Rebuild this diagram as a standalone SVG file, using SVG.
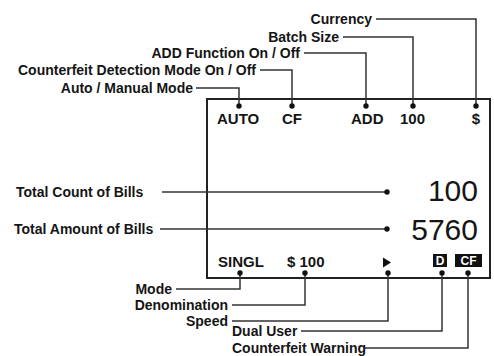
<svg xmlns="http://www.w3.org/2000/svg" width="494" height="356" viewBox="0 0 494 356">
<style>
.lbl{font-family:"Liberation Sans",Arial,sans-serif;font-weight:bold;font-size:14px;fill:#151515}
.lcd{font-family:"Liberation Sans",Arial,sans-serif;font-weight:bold;font-size:15px;fill:#151515}
.big{font-family:"Liberation Sans",Arial,sans-serif;font-size:30px;fill:#151515}
.ld{fill:none;stroke:#333;stroke-width:1.5}
.dot{fill:#111}
.inv{font-family:"Liberation Sans",Arial,sans-serif;font-weight:bold;font-size:12px;fill:#fff}
</style>
<rect width="494" height="356" fill="#fff"/>
<g id="display">
<rect x="207" y="99" width="283" height="179" fill="none" stroke="#222" stroke-width="2"/>
</g>
<g id="connectors">
<path class="ld" d="M376 19H476V106"/>
<path class="ld" d="M343 37H413V106"/>
<path class="ld" d="M304 53H366V106"/>
<path class="ld" d="M260 70H292V106"/>
<path class="ld" d="M196 88H239V106"/>
<path class="ld" d="M162 192H387"/>
<path class="ld" d="M160 229H387"/>
<path class="ld" d="M176 289H240V273"/>
<path class="ld" d="M232 305H305V273"/>
<path class="ld" d="M232 321H388V273"/>
<path class="ld" d="M301 331H442V273"/>
<path class="ld" d="M365 348H468V273"/>
<circle class="dot" cx="476" cy="106" r="2.7"/>
<circle class="dot" cx="413" cy="106" r="2.7"/>
<circle class="dot" cx="366" cy="106" r="2.7"/>
<circle class="dot" cx="292" cy="106" r="2.7"/>
<circle class="dot" cx="239" cy="106" r="2.7"/>
<circle class="dot" cx="387" cy="192" r="2.7"/>
<circle class="dot" cx="387" cy="229" r="2.7"/>
<circle class="dot" cx="240" cy="273" r="2.7"/>
<circle class="dot" cx="305" cy="273" r="2.7"/>
<circle class="dot" cx="388" cy="273" r="2.7"/>
<circle class="dot" cx="442" cy="273" r="2.7"/>
<circle class="dot" cx="468" cy="273" r="2.7"/>
</g>
<g id="label-currency"><text class="lbl" x="372" y="24" text-anchor="end">Currency</text></g>
<g id="label-batch"><text class="lbl" x="339" y="42" text-anchor="end">Batch Size</text></g>
<g id="label-add"><text class="lbl" x="300" y="58" text-anchor="end">ADD Function On / Off</text></g>
<g id="label-cfmode"><text class="lbl" x="256" y="75" text-anchor="end">Counterfeit Detection Mode On / Off</text></g>
<g id="label-auto"><text class="lbl" x="193" y="93" text-anchor="end">Auto / Manual Mode</text></g>
<g id="label-count"><text class="lbl" x="16" y="197">Total Count of Bills</text></g>
<g id="label-amount"><text class="lbl" x="14" y="234">Total Amount of Bills</text></g>
<g id="label-mode"><text class="lbl" x="172" y="294" text-anchor="end">Mode</text></g>
<g id="label-denom"><text class="lbl" x="228" y="310" text-anchor="end">Denomination</text></g>
<g id="label-speed"><text class="lbl" x="228" y="326" text-anchor="end">Speed</text></g>
<g id="label-dual"><text class="lbl" x="232" y="336">Dual User</text></g>
<g id="label-cfwarn"><text class="lbl" x="232" y="352.5">Counterfeit Warning</text></g>
<g id="lcd-top">
<text class="lcd" x="217" y="124">AUTO</text>
<text class="lcd" x="282" y="124">CF</text>
<text class="lcd" x="351" y="124">ADD</text>
<text class="lcd" x="400" y="124">100</text>
<text class="lcd" x="476" y="124" text-anchor="middle">$</text>
</g>
<g id="lcd-numbers">
<text class="big" x="478" y="201" text-anchor="end">100</text>
<text class="big" x="478" y="240" text-anchor="end" font-size="31">5760</text>
</g>
<g id="lcd-bottom">
<text class="lcd" x="218" y="267">SINGL</text>
<text class="lcd" x="287" y="267">$ 100</text>
<path d="M383 257.5L391 262.5L383 267.5Z" fill="#111"/>
<rect x="433" y="254" width="14" height="13" fill="#111"/>
<text class="inv" x="440" y="265" text-anchor="middle">D</text>
<rect x="455" y="254" width="27" height="13" fill="#111"/>
<text class="inv" x="468.5" y="265" text-anchor="middle">CF</text>
</g>
</svg>
